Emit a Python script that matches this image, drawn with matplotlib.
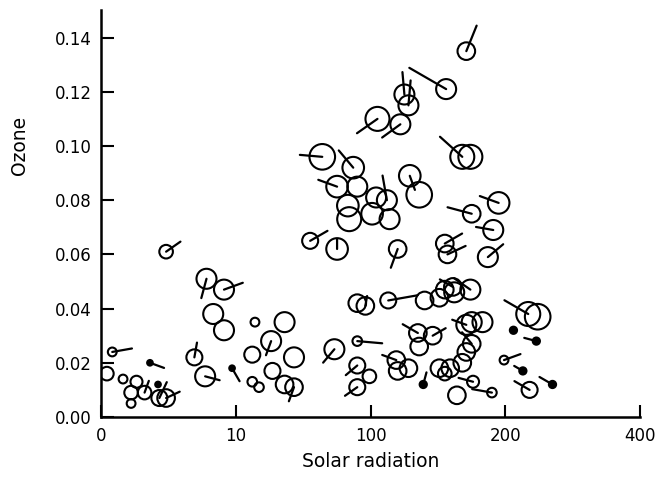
import numpy as np
import matplotlib.pyplot as plt

# values
radiation = [271, 256, 225, 228, 222, 205, 268, 274, 164, 187,
             175, 190, 183, 184, 204, 212, 201, 214, 229, 236,
             295, 275, 291, 287, 255, 257, 155, 175, 220, 48,
             78, 91, 83, 91, 114, 136, 126, 112, 143, 173,
             127, 136, 143, 112, 117, 69, 77, 97, 36, 8,
             4, 16, 22, 32, 22, 43, 48, 42, 26, 190,
             196, 213, 240, 251, 262, 274, 271, 235, 246, 236,
             190, 219, 228, 220, 190, 199, 190, 251, 259, 268,
             271, 275, 264, 317, 324, 306, 323, 299, 313, 318,
             335, 276, 290, 239, 275, 283, 255, 255, 261]
ozone = [0.135, 0.121, 0.119, 0.115, 0.108, 0.110, 0.096, 0.096, 0.096, 0.092,
         0.085, 0.085, 0.078, 0.073, 0.081, 0.080, 0.075, 0.073, 0.089, 0.082,
         0.079, 0.075, 0.069, 0.059, 0.064, 0.060, 0.065, 0.062, 0.062, 0.061,
         0.051, 0.047, 0.038, 0.032, 0.035, 0.035, 0.028, 0.023, 0.022, 0.025,
         0.017, 0.012, 0.011, 0.013, 0.011, 0.022, 0.015, 0.018, 0.020, 0.024,
         0.016, 0.014, 0.009, 0.009, 0.005, 0.007, 0.007, 0.012, 0.013, 0.042,
         0.041, 0.043, 0.043, 0.044, 0.046, 0.047, 0.034, 0.031, 0.030, 0.026,
         0.028, 0.021, 0.018, 0.017, 0.019, 0.015, 0.011, 0.018, 0.018, 0.020,
         0.024, 0.027, 0.008, 0.038, 0.037, 0.032, 0.028, 0.021, 0.017, 0.010,
         0.012, 0.013, 0.009, 0.012, 0.035, 0.035, 0.016, 0.047, 0.048]
temperature = [78, 81, 81, 81, 81, 86, 86, 86, 88, 83,
               83, 81, 83, 86, 81, 81, 83, 81, 83, 88,
               83, 78, 81, 81, 78, 78, 76, 83, 78, 73,
               81, 81, 81, 81, 67, 81, 81, 76, 81, 81,
               76, 78, 78, 68, 68, 76, 81, 63, 63, 67,
               73, 67, 73, 73, 67, 76, 78, 63, 71, 78,
               78, 76, 78, 78, 81, 81, 81, 78, 78, 78,
               68, 78, 78, 78, 76, 73, 76, 78, 78, 78,
               78, 78, 78, 86, 88, 65, 65, 67, 65, 76,
               65, 71, 68, 65, 81, 81, 73, 78, 78]
wind_dir = [68, 150, 95, 85, 216, 215, 138, 0, 175, 130,
            160, 0, 0, 0, 0, 100, 0, 0, 290, 0,
            160, 165, 170, 40, 30, 25, 30, 90, 250, 35,
            255, 20, 0, 0, 0, 0, 250, 0, 0, 230,
            0, 0, 250, 0, 0, 80, 345, 300, 340, 10,
            0, 0, 0, 70, 0, 65, 25, 0, 0, 0,
            80, 10, 0, 0, 0, 145, 160, 150, 30, 0,
            355, 160, 0, 0, 220, 0, 215, 0, 0, 0,
            0, 130, 0, 150, 0, 0, 165, 20, 150, 150,
            150, 165, 170, 75, 0, 0, 0, 0, 150]
wind = [11, 17, 9, 10, 9, 10, 12, 0, 9, 9,
        8, 0, 0, 0, 0, 10, 0, 0, 6, 0,
        8, 10, 7, 8, 8, 8, 8, 4, 8, 7,
        8, 8, 0, 0, 0, 0, 6, 0, 0, 7,
        0, 0, 6, 0, 0, 6, 6, 6, 6, 8,
        0, 0, 0, 5, 0, 7, 6, 0, 0, 0,
        4, 12, 0, 0, 0, 8, 6, 7, 6, 0,
        10, 6, 0, 0, 6, 0, 6, 0, 0, 0,
        0, 6, 0, 11, 0, 0, 5, 7, 4, 7,
        6, 6, 8, 5, 0, 0, 0, 0, 6]

xticks = [0, 100, 200, 300, 400]
xtick_labels = ['0', '10', '100', '200', '400']
yticks = [0.00, 0.02, 0.04, 0.06, 0.08, 0.10, 0.12, 0.14]

fig = plt.figure(figsize=(6.56, 4.95), dpi=100)
ax = fig.add_axes([0.1547, 0.1576, 0.8209, 0.8212])
ax.set_xlim(0, 400)
ax.set_ylim(0, 0.150)

x = np.array(radiation)
y = np.array(ozone)
t = np.array(temperature)
rad_pt = (t - 56) / 2.5 * 0.72
sizes = (2 * rad_pt) ** 2
filled = t < 66

# wind segments drawn from each point's centre
for xi, yi, d, w in zip(x, y, wind_dir, wind):
    if w == 0:
        continue
    L = w * 2.5 * 0.72
    dx = L * np.cos(np.radians(d))
    dy = L * np.sin(np.radians(d))
    ax.annotate('', xy=(xi, yi), xytext=(dx, dy), textcoords='offset points',
                arrowprops=dict(arrowstyle='-', color='black', lw=1.6,
                                shrinkA=0, shrinkB=0))

ax.scatter(x[~filled], y[~filled], s=sizes[~filled], facecolors='none',
           edgecolors='black', linewidths=1.5, zorder=3)
ax.scatter(x[filled], y[filled], s=sizes[filled], facecolors='black',
           edgecolors='black', linewidths=1.5, zorder=3)

for side in ['top', 'right']:
    ax.spines[side].set_visible(False)
for side in ['left', 'bottom']:
    ax.spines[side].set_linewidth(1.8)

ax.set_xticks(xticks)
ax.set_xticklabels(xtick_labels)
ax.set_yticks(yticks)
ax.set_yticklabels([f'{v:.2f}' for v in yticks])
ax.tick_params(direction='in', length=9, width=1.5, labelsize=12, pad=7)

ax.set_xlabel('Solar radiation', fontsize=13.5, labelpad=5)
ax.set_ylabel('Ozone', fontsize=13.5)
ax.yaxis.set_label_coords(-0.135, 0.667)

fig.savefig('out.png', dpi=100)
